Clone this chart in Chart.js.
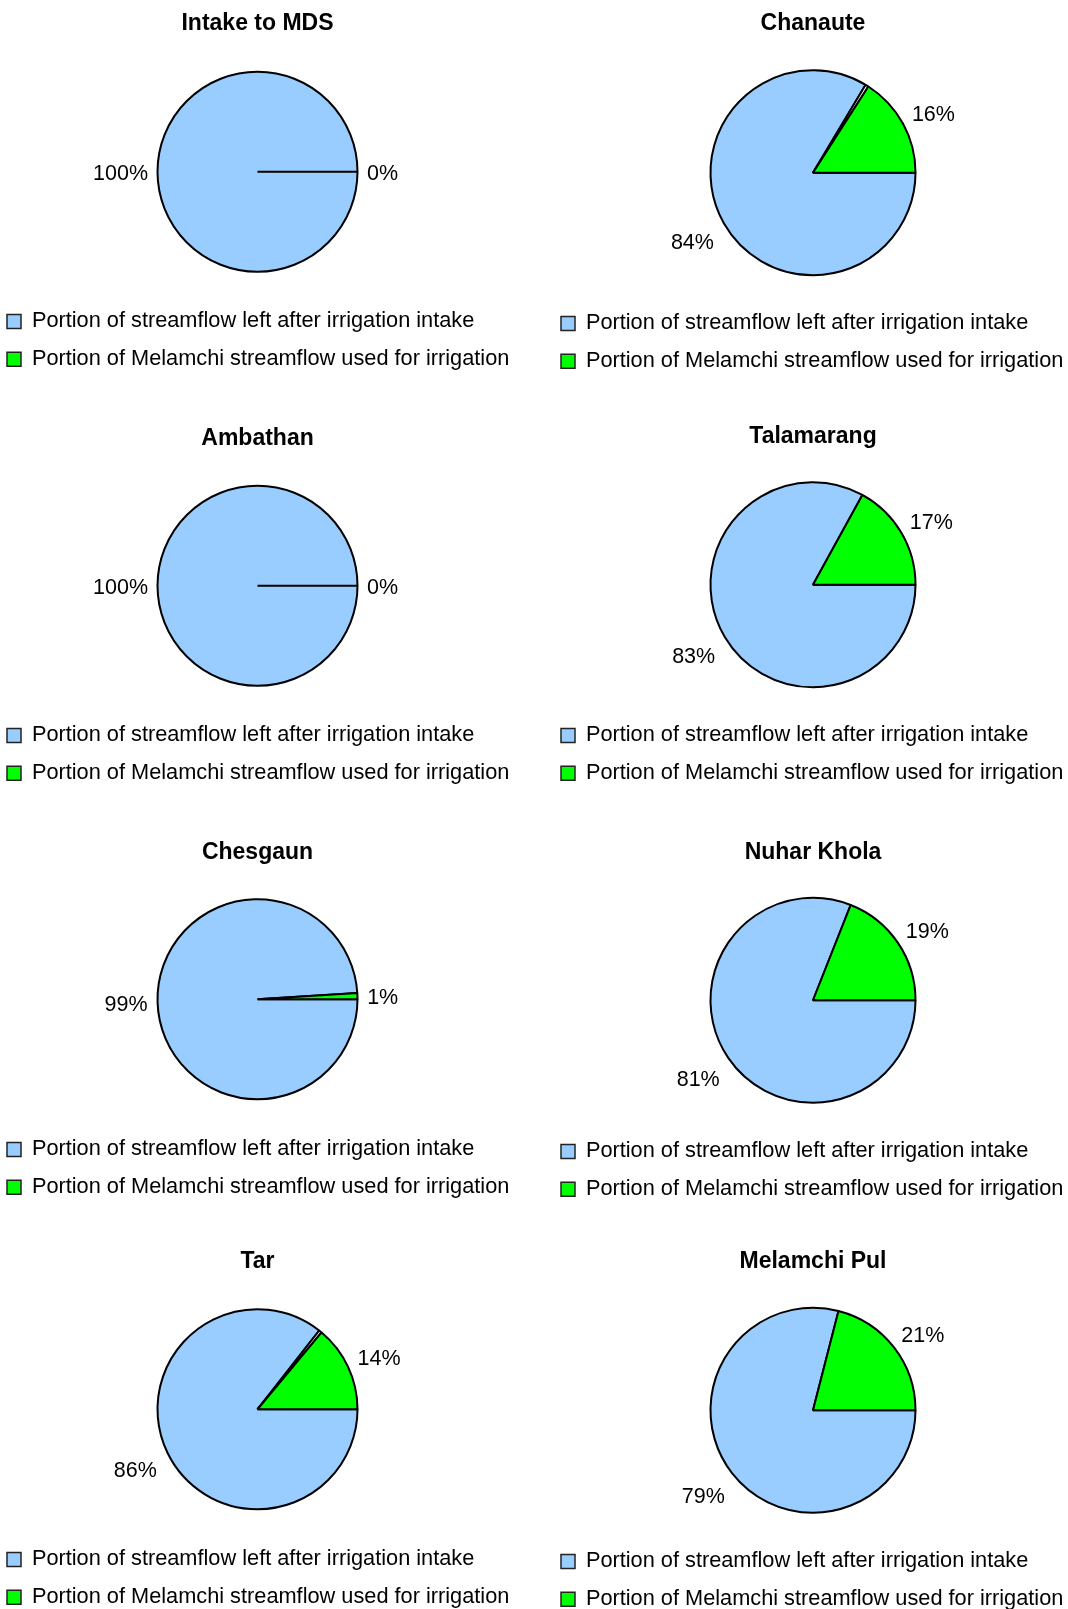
<!DOCTYPE html>
<html>
<head>
<meta charset="utf-8">
<script src="https://cdn.jsdelivr.net/npm/chart.js@4/dist/chart.umd.min.js"></script>
<style>
    html, body {
        margin: 0;
        padding: 0;
        background: #fff;
        overflow: hidden;
    }
    body {
        position: relative;
        width: 1068px;
        height: 1609px;
    }
    canvas {
        position: absolute;
    }
</style>
</head>
<body>

<script>
// irrigation intake share at each site along the Melamchi
const sites = [
    "Intake to MDS",
    "Chanaute",
    "Ambathan",
    "Talamarang",
    "Chesgaun",
    "Nuhar Khola",
    "Tar",
    "Melamchi Pul",
];
const streamflowLeft = [100, 84, 100, 83, 99, 81, 86, 79];
const irrigationUsed = [0, 16, 0, 17, 1, 19, 14, 21];
// thin unlabelled split between the two parts (only a few sites)
const splitSlice = [0, 0.5, 0, 0, 0, 0, 0.5, 0];
const seriesNames = [
    "Portion of streamflow left after irrigation intake",
    "Portion of Melamchi streamflow used for irrigation",
];

const BLUE = "#99ccff";
const GREEN = "#00ff00";
const FONT = '"Liberation Sans", Arial, Helvetica, sans-serif';

// where each panel sits on the page (2 columns x 4 rows)
const panelLeft = [-9, 545];
const panelWidth = [533, 536];
const panelHeight = [380, 382];
const pieRadius = [100, 102.5];
const panelTop = [0, 0, 414, 412, 827, 827, 1237, 1237];
const rowExtra = [0, 0, 1, 1];     // extra canvas height per row
const titleShift = [0, 1, 2, 1];   // nudges the title down per row

// percentage labels outside each slice
const pieLabels = {
    id: "pieLabels",
    afterDatasetsDraw(chart) {
        const ctx = chart.ctx;
        const meta = chart.getDatasetMeta(0);
        const values = chart.data.datasets[0].data;
        ctx.save();
        ctx.font = "21.5px " + FONT;
        ctx.fillStyle = "#000";
        ctx.textAlign = "center";
        ctx.textBaseline = "middle";
        meta.data.forEach(function (arc, i) {
            if (i === 1) return; // split slice has no label
            const p = arc.getProps(["x", "y", "startAngle", "endAngle", "outerRadius"]);
            let mid = (p.startAngle + p.endAngle) / 2;
            if (mid > Math.PI) mid -= 2 * Math.PI;
            // labels above the centre lean a little toward the horizontal
            const a = mid < 0 ? mid * 0.92 : mid;
            const text = values[i] + "%";
            const w = ctx.measureText(text).width;
            const cos = Math.cos(a);
            const sin = Math.sin(a);
            const halfH = sin < 0 ? 7 : 16;
            const dist = p.outerRadius + 9.5 + Math.abs(cos) * w / 2 + Math.abs(sin) * halfH;
            ctx.fillText(text, p.x + cos * dist, p.y + sin * dist + 2);
        });
        ctx.restore();
    },
};

function makePie(i) {
    const col = i % 2;
    const row = Math.floor(i / 2);
    const h = panelHeight[col] + rowExtra[row];
    const canvas = document.createElement("canvas");
    canvas.width = panelWidth[col];
    canvas.height = h;
    canvas.style.left = panelLeft[col] + "px";
    canvas.style.top = panelTop[i] + "px";
    canvas.style.width = panelWidth[col] + "px";
    canvas.style.height = h + "px";
    document.body.appendChild(canvas);

    new Chart(canvas, {
        type: "pie",
        data: {
            labels: [seriesNames[0], "", seriesNames[1]],
            datasets: [
                {
                    data: [streamflowLeft[i], splitSlice[i], irrigationUsed[i]],
                    backgroundColor: [BLUE, "#ffffff", GREEN],
                    borderColor: "#000",
                    borderWidth: 2,
                },
            ],
        },
        options: {
            responsive: false,
            animation: false,
            rotation: 90,
            radius: pieRadius[col],
            layout: {
                padding: { top: 10, left: 0, right: 0, bottom: 0 },
            },
            plugins: {
                tooltip: { enabled: false },
                title: {
                    display: true,
                    text: sites[i],
                    color: "#000",
                    font: { family: FONT, size: 23, weight: "bold" },
                    padding: { top: titleShift[row], bottom: 11.4 - titleShift[row] },
                },
                legend: {
                    position: "bottom",
                    align: "start",
                    labels: {
                        color: "#000",
                        font: { family: FONT, size: 21.75 },
                        boxWidth: 14,
                        boxHeight: 14,
                        padding: 16,
                        filter: function (item) {
                            return item.index !== 1;
                        },
                        generateLabels: function (chart) {
                            const items = Chart.overrides.pie.plugins.legend.labels.generateLabels(chart);
                            items.forEach(function (item) {
                                item.lineWidth = 1.5;
                                item.strokeStyle = "#222";
                            });
                            return items;
                        },
                    },
                },
            },
        },
        plugins: [pieLabels],
    });
}

for (let i = 0; i < sites.length; i++) {
    makePie(i);
}
</script>
</body>
</html>
